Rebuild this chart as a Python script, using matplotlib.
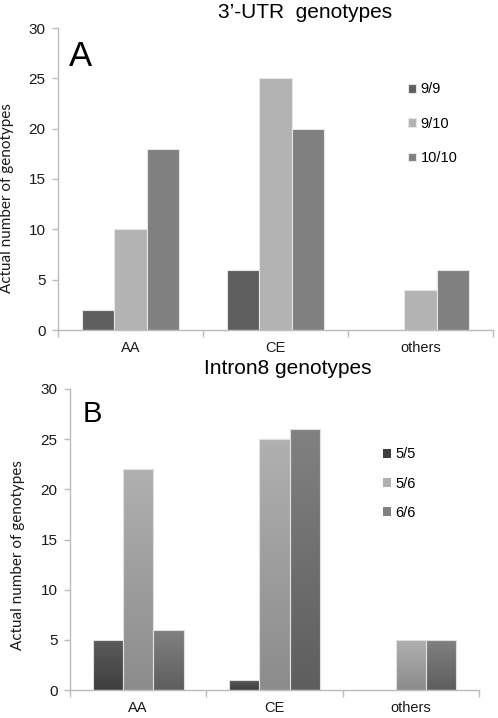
import numpy as np
import matplotlib
matplotlib.use("Agg")
import matplotlib.pyplot as plt
from matplotlib.colors import LinearSegmentedColormap

# data
groups = ["AA", "CE", "others"]

utr_labels = ["9/9", "9/10", "10/10"]
utr_counts = [
    [2, 6, 0],    # 9/9
    [10, 25, 4],  # 9/10
    [18, 20, 6],  # 10/10
]

intron_labels = ["5/5", "5/6", "6/6"]
intron_counts = [
    [5, 1, 0],    # 5/5
    [22, 25, 5],  # 5/6
    [6, 26, 5],   # 6/6
]

utr_colors = ["#5f5f5f", "#b3b3b3", "#808080"]
# gradient (top, bottom) for the intron bars
intron_grad = [("#5c5c5c", "#3e3e3e"), ("#b0b0b0", "#8c8c8c"), ("#818181", "#5e5e5e")]

W, H = 498, 718
fig = plt.figure(figsize=(W / 100, H / 100), dpi=100)

axis_grey = "#bcbcbc"
bar_w = 0.222
tick_font = "Liberation Sans"


def px_axes(left, right, top, bottom):
    # pixel box -> figure fraction axes
    return fig.add_axes([left / W, (H - bottom) / H, (right - left) / W, (bottom - top) / H])


def style_axes(ax):
    for s in ["top", "right"]:
        ax.spines[s].set_visible(False)
    for s in ["left", "bottom"]:
        ax.spines[s].set_color(axis_grey)
        ax.spines[s].set_linewidth(1.0)
    ax.set_xlim(-0.5, 2.5)
    ax.set_ylim(0, 30)
    ax.set_yticks(range(0, 31, 5))
    ax.set_xticks(range(len(groups)))
    ax.set_xticklabels(groups)
    ax.set_xticks([-0.5, 0.5, 1.5, 2.5], minor=True)
    ax.tick_params(axis="x", which="major", length=0, pad=8, labelsize=10.5)
    ax.tick_params(axis="x", which="minor", length=5, color=axis_grey, width=1)
    ax.tick_params(axis="y", length=4, color=axis_grey, width=1, labelsize=11, pad=5)
    for lab in ax.get_xticklabels() + ax.get_yticklabels():
        lab.set_fontfamily(tick_font)
        lab.set_color("#1a1a1a")
    ax.set_ylabel("Actual number of genotypes", family="Lato", fontsize=11, color="#1a1a1a")


x = np.arange(len(groups))

# panel A: 3'-UTR
axA = px_axes(58, 493, 28, 330)
handles = []
for i, (lab, vals) in enumerate(zip(utr_labels, utr_counts)):
    b = axA.bar(x + (i - 1) * bar_w, vals, bar_w, color=utr_colors[i],
                edgecolor="#e6e6e6", linewidth=0.8, label=lab)
    handles.append(b)
style_axes(axA)
axA.yaxis.set_label_coords(-0.101, 0.437)
axA.text(0.025, 0.96, "A", transform=axA.transAxes, fontsize=25,
         family=tick_font, va="top", ha="left")
fig.text(305 / W, 1 - 13 / H, "3\u2019-UTR  genotypes", ha="center", va="center",
         family=tick_font, fontsize=15)
fig.legend(handles=handles, loc="upper left", bbox_to_anchor=(401 / W, 1 - 75 / H),
           frameon=False, borderpad=0, handlelength=0.55, handleheight=0.55,
           handletextpad=0.3, labelspacing=1.4, prop={"family": tick_font, "size": 10.5})

# panel B: Intron8
axB = px_axes(70, 479, 389, 690)
handlesB = []
for i, (lab, vals) in enumerate(zip(intron_labels, intron_counts)):
    top_c, bot_c = intron_grad[i]
    cmap = LinearSegmentedColormap.from_list("g%d" % i, [bot_c, top_c])
    xs = x + (i - 1) * bar_w
    bars = axB.bar(xs, vals, bar_w, facecolor="none", edgecolor="#e0e0e0",
                   linewidth=0.8, zorder=2)
    for xc, v, rect in zip(xs, vals, bars):
        if v <= 0:
            continue
        grad = np.linspace(1, 0, 64).reshape(-1, 1)
        im = axB.imshow(grad, extent=[xc - bar_w / 2, xc + bar_w / 2, 0, v], aspect="auto",
                        cmap=cmap, vmin=0, vmax=1, zorder=1, interpolation="bilinear")
        im.set_clip_path(rect)
    handlesB.append(plt.Rectangle((0, 0), 1, 1, facecolor=top_c if i != 0 else bot_c,
                                  edgecolor="none", label=lab))
style_axes(axB)
axB.yaxis.set_label_coords(-0.11, 0.449)
axB.text(0.03, 0.965, "B", transform=axB.transAxes, fontsize=21,
         family=tick_font, va="top", ha="left")
fig.text(288 / W, 1 - 368 / H, "Intron8 genotypes", ha="center", va="center",
         family=tick_font, fontsize=15)
fig.legend(handles=handlesB, loc="upper left", bbox_to_anchor=(376 / W, 1 - 440 / H),
           frameon=False, borderpad=0, handlelength=0.55, handleheight=0.55,
           handletextpad=0.3, labelspacing=1.05, prop={"family": tick_font, "size": 10.5})

fig.savefig("out.png", dpi=100)
